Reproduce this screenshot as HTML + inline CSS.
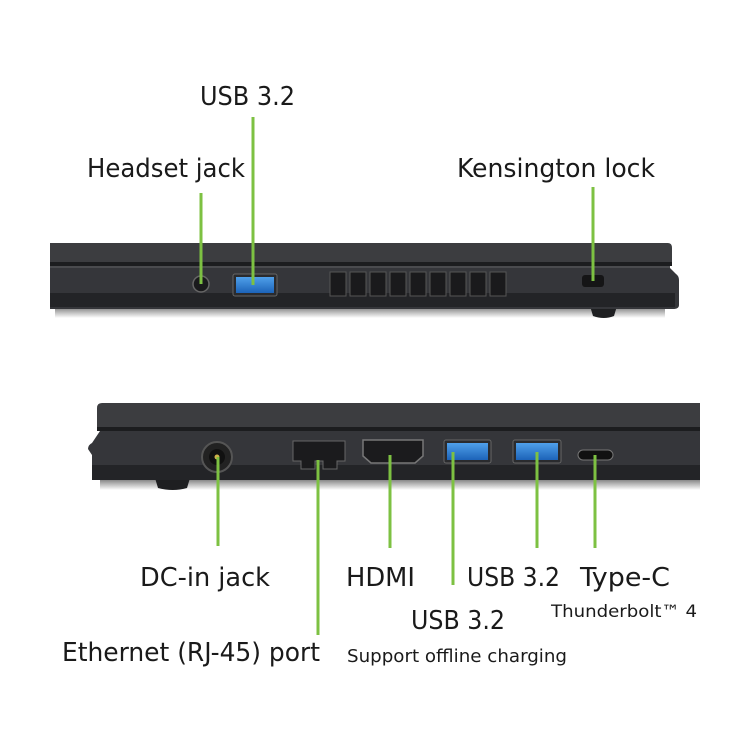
<!DOCTYPE html>
<html><head><style>
html,body{margin:0;padding:0;background:#fff;}
svg{display:block;}
text{font-family:"DejaVu Sans Condensed","Liberation Sans Narrow","Liberation Sans",sans-serif;fill:#1a1a1a;}
</style></head><body>
<svg width="750" height="750" viewBox="0 0 750 750" xmlns="http://www.w3.org/2000/svg">
<defs>
<linearGradient id="sh" x1="0" y1="0" x2="0" y2="1"><stop offset="0" stop-color="#888"/><stop offset="1" stop-color="#fff"/></linearGradient>
<linearGradient id="usb" x1="0" y1="0" x2="0" y2="1"><stop offset="0" stop-color="#4fa0ea"/><stop offset="1" stop-color="#1c63b8"/></linearGradient>
</defs>
<!-- TOP LAPTOP -->
<rect x="55" y="308" width="610" height="10" fill="url(#sh)"/>
<path d="M590 306 h27 l-3 10 q-10 4 -21 0 z" fill="#1e1f21"/>
<path d="M50 243 H668 q4 0 4 5 V262 H50 Z" fill="#3c3d40"/>
<rect x="50" y="262" width="622" height="4" fill="#1c1d1f"/>
<path d="M50 266 H668 l8 8 q3 2 3 6 V305 q0 4 -6 4 H50 Z" fill="#35363a"/>
<rect x="50" y="293" width="625" height="14" fill="#232427"/>
<rect x="50" y="266" width="620" height="2" fill="#4a4b4e"/>
<!-- vents -->
<g fill="#1a1a1c" stroke="#555" stroke-width="1">
<rect x="330" y="272" width="16" height="24"/><rect x="350" y="272" width="16" height="24"/><rect x="370" y="272" width="16" height="24"/><rect x="390" y="272" width="16" height="24"/><rect x="410" y="272" width="16" height="24"/><rect x="430" y="272" width="16" height="24"/><rect x="450" y="272" width="16" height="24"/><rect x="470" y="272" width="16" height="24"/><rect x="490" y="272" width="16" height="24"/>
</g>
<circle cx="201" cy="284" r="8" fill="#1a1a1c" stroke="#666" stroke-width="1.5"/>
<rect x="233" y="274" width="44" height="22" rx="2" fill="#2a2b2e" stroke="#666"/>
<rect x="236" y="277" width="38" height="16" fill="url(#usb)"/>
<rect x="582" y="275" width="22" height="12" rx="3" fill="#151516"/>
<!-- BOTTOM LAPTOP -->
<rect x="100" y="480" width="600" height="10" fill="url(#sh)"/>
<path d="M155 478 h35 l-3 10 q-14 4 -29 0 z" fill="#1e1f21"/>
<path d="M102 403 H700 V427 H97 V408 q0 -5 5 -5 Z" fill="#3c3d40"/>
<rect x="97" y="427" width="603" height="4" fill="#1c1d1f"/>
<path d="M100 431 H700 V480 H96 q-4 0 -4 -4 V455 l-4 -6 q0 -4 4 -6 Z" fill="#35363a"/>
<rect x="92" y="465" width="608" height="15" fill="#232427"/>
<circle cx="217" cy="457" r="15" fill="#222" stroke="#555" stroke-width="2"/>
<circle cx="217" cy="457" r="8" fill="#111"/>
<circle cx="217" cy="457" r="2.5" fill="#cfb24a"/>
<path d="M293 441 h52 v20 h-8 v8 h-14 v-8 h-8 v8 h-14 v-8 h-8 z" fill="#1b1b1d" stroke="#666"/>
<path d="M363 440 h60 v16 l-8 7 h-44 l-8 -7 z" fill="#1b1b1d" stroke="#777" stroke-width="1.5"/>
<rect x="444" y="440" width="47" height="23" rx="2" fill="#2a2b2e" stroke="#666"/>
<rect x="447" y="443" width="41" height="17" fill="url(#usb)"/>
<rect x="513" y="440" width="48" height="23" rx="2" fill="#2a2b2e" stroke="#666"/>
<rect x="516" y="443" width="42" height="17" fill="url(#usb)"/>
<rect x="578" y="450" width="35" height="10" rx="5" fill="#111" stroke="#777"/>
<!-- green lines -->
<g stroke="#7dc142" stroke-width="3">
<line x1="201" y1="193" x2="201" y2="284"/>
<line x1="253" y1="117" x2="253" y2="285"/>
<line x1="593" y1="187" x2="593" y2="281"/>
<line x1="218" y1="457" x2="218" y2="546"/>
<line x1="318" y1="460" x2="318" y2="635"/>
<line x1="390" y1="455" x2="390" y2="548"/>
<line x1="453" y1="452" x2="453" y2="585"/>
<line x1="537" y1="452" x2="537" y2="548"/>
<line x1="595" y1="455" x2="595" y2="548"/>
</g>
<!-- labels -->
<g font-size="26">
<text x="200" y="105" textLength="95" lengthAdjust="spacingAndGlyphs">USB 3.2</text>
<text x="87" y="177" textLength="158" lengthAdjust="spacingAndGlyphs">Headset jack</text>
<text x="457" y="177" textLength="198" lengthAdjust="spacingAndGlyphs">Kensington lock</text>
<text x="140" y="586" textLength="130" lengthAdjust="spacingAndGlyphs">DC-in jack</text>
<text x="346" y="586" textLength="69" lengthAdjust="spacingAndGlyphs">HDMI</text>
<text x="467" y="586" textLength="93" lengthAdjust="spacingAndGlyphs">USB 3.2</text>
<text x="580" y="586" textLength="90" lengthAdjust="spacingAndGlyphs">Type-C</text>
<text x="411" y="629" textLength="94" lengthAdjust="spacingAndGlyphs">USB 3.2</text>
<text x="62" y="661" textLength="258" lengthAdjust="spacingAndGlyphs">Ethernet (RJ-45) port</text>
</g>
<text x="551" y="617" font-size="17" textLength="146" lengthAdjust="spacingAndGlyphs">Thunderbolt™ 4</text>
<text x="347" y="662" font-size="18" textLength="220" lengthAdjust="spacingAndGlyphs">Support offline charging</text>
</svg>
</body></html>
